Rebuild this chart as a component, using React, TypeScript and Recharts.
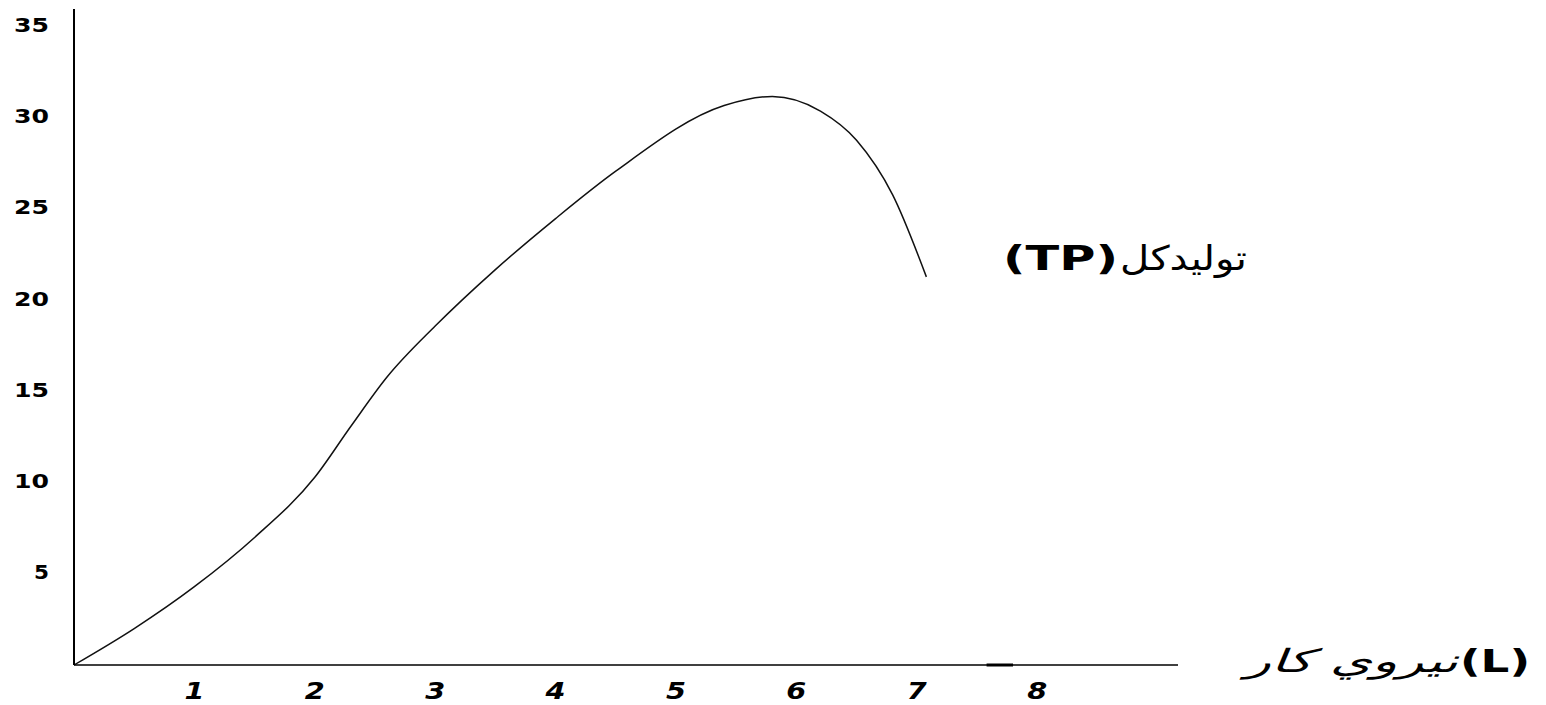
import { Line, LineChart, ReferenceLine, XAxis, YAxis } from 'recharts';

// labour input (L) and total product (TP)
const labour = [0, 0.5, 1, 1.5, 2, 2.3, 2.6, 3, 3.5, 4, 4.5, 5.4, 5.8, 6.2, 6.5, 6.8, 7.08];
const totalProduct = [0, 2.0, 4.3, 7.0, 10.3, 13.1, 15.8, 18.6, 21.7, 24.5, 27.1, 30.7, 31.2, 30.4, 28.8, 25.8, 21.3];

const xTicks = [1, 2, 3, 4, 5, 6, 7, 8];
const yTicks = [5, 10, 15, 20, 25, 30, 35];

const tpLabel = 'تولیدکل';
const tpCode = '(TP)';
const lLabel = 'نیروي کار';
const lCode = '(L)';

const data = labour.map((x, i) => ({ x, tp: totalProduct[i] }));

const font = '"DejaVu Sans", sans-serif';

function YTick({ x, y, payload }: any) {
  const s = String(payload.value);
  return (
    <text
      x={x - 25}
      y={y - 2}
      textAnchor="end"
      dominantBaseline="central"
      fontFamily={font}
      fontWeight="bold"
      fontSize={20}
      textLength={15 + (s.length - 1) * 20}
      lengthAdjust="spacingAndGlyphs"
      fill="#000"
    >
      {s}
    </text>
  );
}

function XTick({ x, y, payload }: any) {
  return (
    <text
      x={x}
      y={y + 26}
      textAnchor="middle"
      dominantBaseline="central"
      fontFamily={font}
      fontWeight="bold"
      fontStyle="italic"
      fontSize={23}
      textLength={20}
      lengthAdjust="spacingAndGlyphs"
      fill="#000"
    >
      {payload.value}
    </text>
  );
}

export default function App() {
  return (
    <div style={{ position: 'absolute', left: 0, top: 0, width: 1546, height: 705, background: '#fff' }}>
      <LineChart
        width={1546}
        height={705}
        data={data}
        margin={{ top: 9, right: 368, bottom: 0, left: 0 }}
      >
        <XAxis
          type="number"
          dataKey="x"
          domain={[0, 9.17]}
          ticks={xTicks}
          tick={<XTick />}
          tickLine={false}
          tickSize={0}
          tickMargin={0}
          height={40}
          allowDataOverflow
          axisLine={{ stroke: '#000', strokeWidth: 1.5 }}
        />
        <YAxis
          type="number"
          domain={[0, 36]}
          ticks={yTicks}
          tick={<YTick />}
          tickLine={false}
          tickSize={0}
          tickMargin={0}
          width={74}
          axisLine={{ stroke: '#000', strokeWidth: 2 }}
        />
        <ReferenceLine
          segment={[{ x: 7.58, y: 0 }, { x: 7.8, y: 0 }]}
          stroke="#000"
          strokeWidth={3}
          ifOverflow="visible"
        />
        <Line
          type="monotone"
          dataKey="tp"
          stroke="#111"
          strokeWidth={1.5}
          dot={false}
          activeDot={false}
          isAnimationActive={false}
        />
      </LineChart>

      <svg
        width={1546}
        height={705}
        style={{ position: 'absolute', left: 0, top: 0, pointerEvents: 'none' }}
      >
        <text
          x={1003}
          y={270}
          fontFamily={font}
          fontWeight="bold"
          fontSize={34}
          textLength={115}
          lengthAdjust="spacingAndGlyphs"
          fill="#000"
        >
          {tpCode}
        </text>
        <text
          x={1120}
          y={270}
          fontFamily={font}
          fontSize={34}
          textLength={127}
          lengthAdjust="spacingAndGlyphs"
          fill="#000"
        >
          {tpLabel}
        </text>
        <text
          x={1245}
          y={672}
          fontFamily={font}
          fontStyle="italic"
          fontSize={32}
          textLength={213}
          lengthAdjust="spacingAndGlyphs"
          fill="#000"
        >
          {lLabel}
        </text>
        <text
          x={1460}
          y={672}
          fontFamily={font}
          fontWeight="bold"
          fontSize={32}
          textLength={70}
          lengthAdjust="spacingAndGlyphs"
          fill="#000"
        >
          {lCode}
        </text>
      </svg>
    </div>
  );
}
